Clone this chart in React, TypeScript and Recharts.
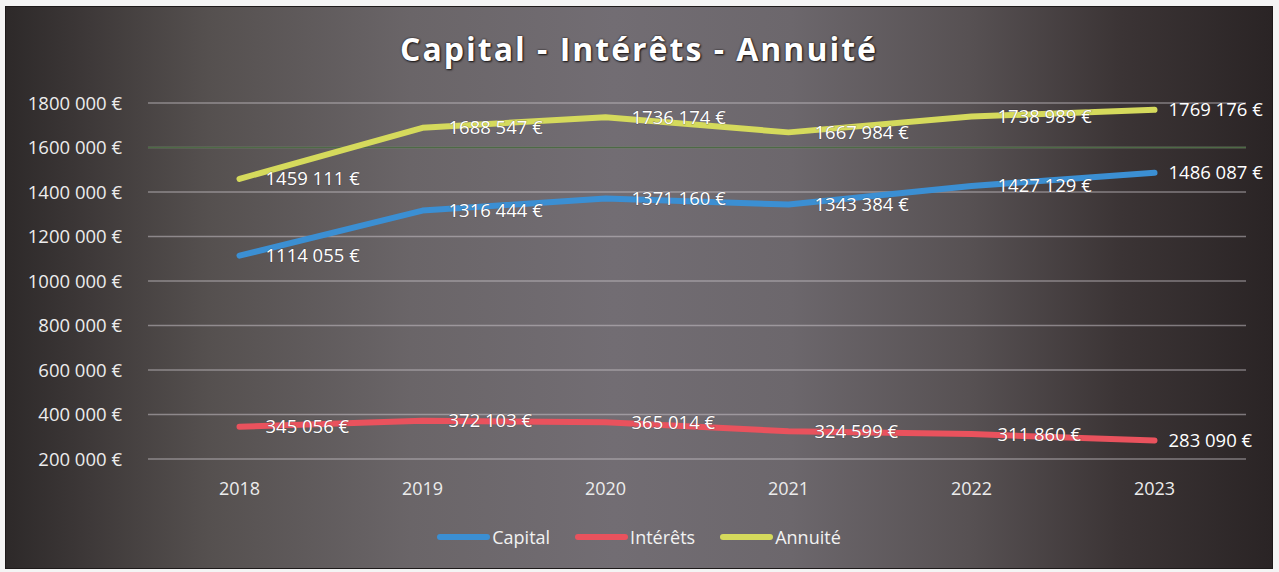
import React from "react";
import { LineChart, Line, XAxis, YAxis, CartesianGrid, LabelList, Legend, ReferenceLine } from "recharts";

const years = ["2018", "2019", "2020", "2021", "2022", "2023"];
const capital = [1114055, 1316444, 1371160, 1343384, 1427129, 1486087];
const interets = [345056, 372103, 365014, 324599, 311860, 283090];
const annuite = [1459111, 1688547, 1736174, 1667984, 1738989, 1769176];
const yTicks = [200000, 400000, 600000, 800000, 1000000, 1200000, 1400000, 1600000, 1800000];

const data = years.map((y, i) => ({
  year: y,
  Capital: capital[i],
  "Intérêts": interets[i],
  "Annuité": annuite[i],
}));

const series = [
  { key: "Capital", color: "#3b8fd3" },
  { key: "Intérêts", color: "#e9525d" },
  { key: "Annuité", color: "#d5da5c" },
];

const FONT = "'Open Sans', 'DejaVu Sans', sans-serif";

function fmt(v: number): string {
  const s = String(Math.round(v));
  if (s.length <= 3) return s + " €";
  return s.slice(0, s.length - 3) + " " + s.slice(s.length - 3) + " €";
}

const ValueLabel = (props: any) => {
  const { x, y, value, index } = props;
  const isLast = index === years.length - 1;
  return (
    <text
      x={x + (isLast ? 14 : 26)}
      y={y}
      dy="0.35em"
      fill="#ffffff"
      fontSize={18.5}
      fontFamily={FONT}
      style={{ paintOrder: "stroke" }}
      stroke="rgba(40,35,40,0.35)"
      strokeWidth={1}
    >
      {fmt(value)}
    </text>
  );
};

const CustomLegend = () => (
  <div
    style={{
      display: "flex",
      justifyContent: "center",
      alignItems: "center",
      gap: 25,
      fontFamily: FONT,
      fontSize: 18,
      color: "#f2f2f2",
    }}
  >
    {series.map((s) => (
      <div key={s.key} style={{ display: "flex", alignItems: "center" }}>
        <span
          style={{
            display: "inline-block",
            width: 53,
            height: 6,
            borderRadius: 3,
            background: s.color,
            marginRight: 2,
          }}
        />
        <span>{s.key}</span>
      </div>
    ))}
  </div>
);

export default function App() {
  return (
    <div
      style={{
        position: "absolute",
        left: 0,
        top: 0,
        width: 1279,
        height: 572,
        background: "#f4f4f4",
        overflow: "hidden",
      }}
    >
      <div
        style={{
          position: "absolute",
          left: 5,
          top: 6,
          width: 1268,
          height: 563,
          background:
            "linear-gradient(to right, #2d2929 0%, #3c3737 6%, #55504f 16%, #6a6568 32%, #726d73 48%, #6c676c 62%, #575153 76%, #3b3435 88%, #2a2425 100%)",
          boxShadow: "inset 0 0 0 1px #1e1a1a",
        }}
      >
        <div
          style={{
            position: "absolute",
            left: 0,
            top: 21,
            width: 1268,
            textAlign: "center",
            fontFamily: FONT,
            fontWeight: 700,
            fontSize: 32,
            letterSpacing: 2,
            color: "#ffffff",
            textShadow: "0 0 2px #1a1616, 1px 1px 2px #1a1616",
          }}
        >
          Capital - Intérêts - Annuité
        </div>
        <LineChart
          width={1268}
          height={563}
          data={data}
          margin={{ top: 97, right: 27, bottom: 56, left: 0 }}
          style={{ fontFamily: FONT }}
        >
          <CartesianGrid
            vertical={false}
            horizontal={true}
            stroke="rgba(205,200,205,0.5)"
            strokeWidth={1.5}
          />
          <ReferenceLine y={1600000} stroke="#4d6a45" strokeWidth={1.5} />
          <XAxis
            dataKey="year"
            axisLine={false}
            tickLine={false}
            tickMargin={17}
            height={30}
            padding={{ left: 91.5, right: 91.5 }}
            tick={{ fill: "#ececec", fontSize: 18 }}
          />
          <YAxis
            type="number"
            domain={[200000, 1800000]}
            ticks={yTicks}
            axisLine={false}
            tickLine={false}
            tickMargin={20}
            width={143}
            interval={0}
            tickFormatter={(v: number) => fmt(v)}
            tick={{ fill: "#ececec", fontSize: 18.5 }}
          />
          <Legend
            verticalAlign="bottom"
            content={<CustomLegend />}
            wrapperStyle={{ position: "absolute", top: 519, left: 0, width: 1268 }}
          />
          {series.map((s) => (
            <Line
              key={s.key}
              dataKey={s.key}
              type="linear"
              stroke={s.color}
              strokeWidth={6}
              strokeLinecap="round"
              strokeLinejoin="round"
              dot={false}
              activeDot={false}
              isAnimationActive={false}
            >
              <LabelList dataKey={s.key} content={<ValueLabel />} />
            </Line>
          ))}
        </LineChart>
      </div>
    </div>
  );
}
